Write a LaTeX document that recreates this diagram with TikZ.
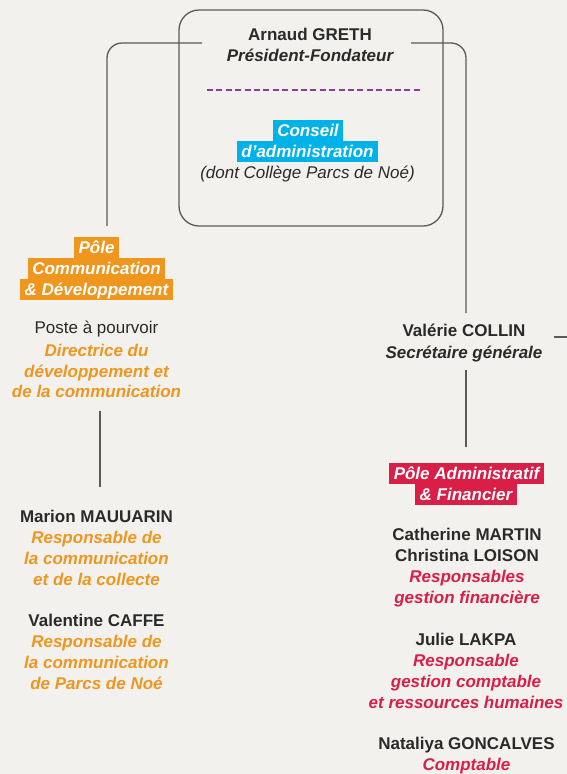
\documentclass[tikz,border=0pt]{standalone}
\usepackage{fontspec}
\setmainfont{Liberation Sans}
\definecolor{bg}{HTML}{F2F1EE}
\definecolor{ink}{HTML}{2A2A2A}
\definecolor{linec}{HTML}{5A5A5A}
\definecolor{orng}{HTML}{EE961E}
\definecolor{cyanb}{HTML}{00B2E8}
\definecolor{redb}{HTML}{D91E48}
\definecolor{purp}{HTML}{8E3A96}
\newcommand{\firststrut}{\rule{0pt}{17pt}}
\tikzset{
  txt/.style={anchor=north, inner sep=0pt, align=center, text=ink, font=\fontsize{17}{#1}\selectfont},
  txt/.default={21},
  hl/.style={fill=#1, text=white, anchor=base, inner xsep=4.3pt, inner ysep=0pt,
    text height=16.5pt, text depth=4.5pt, font=\fontsize{17}{21}\selectfont\bfseries\itshape},
  conn/.style={draw=linec, line width=1.3pt, rounded corners=15pt},
  boxstyle/.style={draw=linec, line width=1.3pt, rounded corners=20pt, minimum width=264pt, minimum height=216pt, inner sep=0pt}
}
\begin{document}
\begin{tikzpicture}[x=1pt,y=-1pt]
\fill[bg] (0,0) rectangle (567,774);
\useasboundingbox (0,0) rectangle (567,774);

% central box
\node[boxstyle] (board) at (311,118) {};
\node[txt] (greth) at (310,23.7) {\firststrut\bfseries Arnaud GRETH\\\bfseries\itshape Président-Fondateur};
\coordinate (dashL) at (207,90);
\coordinate (dashR) at (420,90);
\draw[purp, line width=1.3pt, dash pattern=on 6pt off 3.4pt] (dashL) -- (dashR);
\node[hl=cyanb] (ca1) at (308,136.7) {Conseil};
\node[hl=cyanb] (ca2) at (307.5,157.5) {d’administration};
\node[txt] (college) at (307.5,161) {\firststrut\itshape (dont Collège Parcs de Noé)};

% connectors from the top
\coordinate (tlA) at (202,43);
\coordinate (tlB) at (107,226);
\coordinate (trA) at (411,43);
\coordinate (trB) at (466,313);
\draw[conn] (tlA) -| (tlB);
\draw[conn] (trA) -| (trB);

% left pole
\node[hl=orng] (pc1) at (96.5,253) {Pôle};
\node[hl=orng] (pc2) at (96.5,274) {Communication};
\node[hl=orng] (pc3) at (96.5,295) {\& Développement};
\node[txt] (poste) at (96.5,316.3) {\firststrut Poste à pourvoir};
\node[txt={20.4}, text=orng, font=\fontsize{17}{20.4}\selectfont\bfseries\itshape] (dir) at (96.5,339.5) {\firststrut Directrice du\\développement et\\de la communication};
\coordinate (lvA) at (100,410.5);
\coordinate (lvB) at (100,487);
\draw[draw=linec, line width=1.3pt] (lvA) -- (lvB);
\node[txt={20.8}] (marion) at (96.5,505.7) {\firststrut\bfseries Marion MAUUARIN\\\color{orng}\bfseries\itshape Responsable de\\\color{orng}\bfseries\itshape la communication\\\color{orng}\bfseries\itshape et de la collecte};
\node[txt={20.8}] (valentine) at (96.5,609.7) {\firststrut\bfseries Valentine CAFFE\\\color{orng}\bfseries\itshape Responsable de\\\color{orng}\bfseries\itshape la communication\\\color{orng}\bfseries\itshape de Parcs de Noé};

% right column
\node[txt={21.6}] (collin) at (464,319.7) {\firststrut\bfseries Valérie COLLIN\\\bfseries\itshape Secrétaire générale};
\coordinate (sgR1) at (554,337);
\coordinate (sgR2) at (567,337);
\draw[draw=linec, line width=1.3pt] (sgR1) -- (sgR2);
\coordinate (rvA) at (466,370);
\coordinate (rvB) at (466,447);
\draw[draw=linec, line width=1.3pt] (rvA) -- (rvB);
\node[hl=redb] (pa1) at (466.5,479.5) {Pôle Administratif};
\node[hl=redb] (pa2) at (466,500) {\& Financier};
\node[txt] (martin) at (467,523.7) {\firststrut\bfseries Catherine MARTIN\\\bfseries Christina LOISON\\\color{redb}\bfseries\itshape Responsables\\\color{redb}\bfseries\itshape gestion financière};
\node[txt] (lakpa) at (466,628) {\firststrut\bfseries Julie LAKPA\\\color{redb}\bfseries\itshape Responsable\\\color{redb}\bfseries\itshape gestion comptable\\\color{redb}\bfseries\itshape et ressources humaines};
\node[txt] (goncalves) at (466.5,732.3) {\firststrut\bfseries Nataliya GONCALVES\\\color{redb}\bfseries\itshape Comptable};
\end{tikzpicture}
\end{document}
